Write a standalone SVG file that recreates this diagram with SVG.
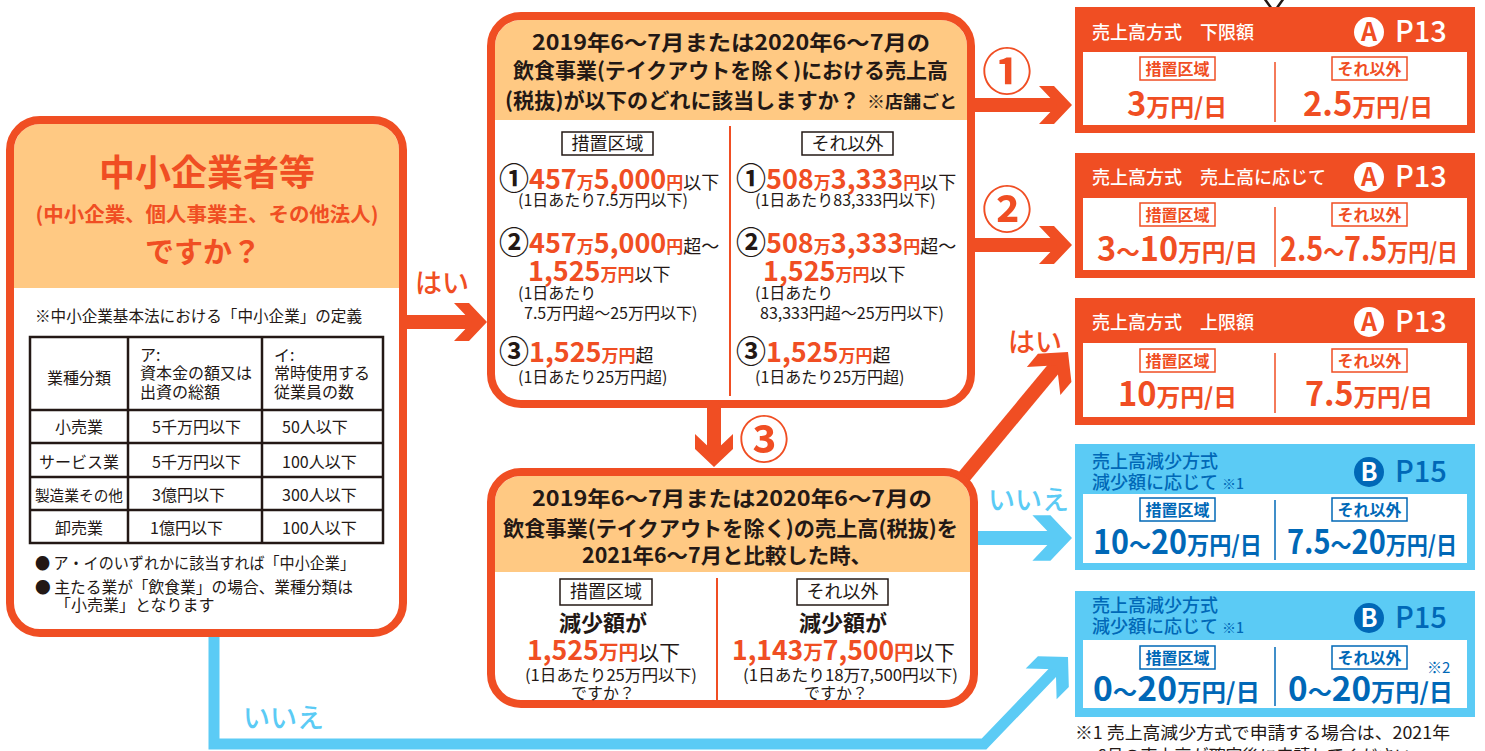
<svg xmlns="http://www.w3.org/2000/svg" width="1485" height="751" viewBox="0 0 1485 751">
<style>
text{font-family:"Noto Sans CJK JP","Noto Sans",sans-serif;fill:#231815}
.ob{stroke:#F04E23;stroke-width:8;fill:none}
.hd{fill:#FFC983}
.ht{font-size:21px;font-weight:700}
.o{fill:#F04E23}
.nb{font-size:27px;font-weight:700;fill:#F04E23}
.ns{font-size:17px;font-weight:700;fill:#F04E23}
.cd{font-size:30px;font-weight:700}
.ls{font-size:18px}
.sm{font-size:15.5px}
.tb{font-size:16px}
.lbl{fill:#fff;stroke:#231815;stroke-width:1.5}
.lt{font-size:18px;text-anchor:middle}
.rt{font-size:18px;fill:#fff;font-weight:500}
.pg{font-size:29px;fill:#fff;font-weight:500}
.rl{fill:#fff;stroke:#F04E23;stroke-width:1.5}
.rlt{font-size:16px;font-weight:700;fill:#F04E23;text-anchor:middle}
.rb{font-size:33px;font-weight:700}
.rs{font-size:24px;font-weight:700}
.ov{fill:#F04E23}
.bv{fill:#0068B7}
.bl{fill:#fff;stroke:#0068B7;stroke-width:1.5}
.blt{font-size:16px;font-weight:700;fill:#0068B7;text-anchor:middle}
.bt{font-size:18px;fill:#0068B7;font-weight:500}
.yn{font-size:27px;font-weight:500}
.cn{font-size:50px;font-weight:700;fill:#F04E23;text-anchor:middle}
</style>
<defs>
<path id="ah" d="M0,0 L-18,-19 L-33,-19 L-15,0 L-33,19 L-18,19 Z"/>
</defs>

<!-- connectors -->
<g id="connectors">
  <rect x="405" y="315" width="70" height="14" fill="#F04E23"/>
  <use href="#ah" transform="translate(487,322)" fill="#F04E23"/>
  <rect x="975" y="98" width="85" height="14" fill="#F04E23"/>
  <use href="#ah" transform="translate(1072,105)" fill="#F04E23"/>
  <rect x="975" y="238" width="85" height="14" fill="#F04E23"/>
  <use href="#ah" transform="translate(1072,245)" fill="#F04E23"/>
  <rect x="707" y="406" width="14" height="50" fill="#F04E23"/>
  <use href="#ah" transform="translate(714,467) rotate(90)" fill="#F04E23"/>
  <line x1="958" y1="484" x2="1060" y2="361" stroke="#F04E23" stroke-width="14"/>
  <use href="#ah" transform="translate(1068,352) rotate(-50) scale(1.15)" fill="#F04E23"/>
  <rect x="976" y="531" width="84" height="14" fill="#5BCBF5"/>
  <use href="#ah" transform="translate(1072,538) scale(1.2)" fill="#5BCBF5"/>
  <path d="M214,635 V744 H984 L1058,667" fill="none" stroke="#5BCBF5" stroke-width="11"/>
  <use href="#ah" transform="translate(1068,657) rotate(-45) scale(1.15)" fill="#5BCBF5"/>
  <text x="415" y="293" class="yn o">はい</text>
  <text x="1008" y="352" class="yn o">はい</text>
  <text x="988" y="510" class="yn" style="fill:#5BCBF5">いいえ</text>
  <text x="243" y="728" class="yn" style="fill:#5BCBF5">いいえ</text>
  <text x="1007" y="90" class="cn">①</text>
  <text x="1007" y="228" class="cn">②</text>
  <text x="764" y="458" class="cn">③</text>
  <polyline points="1264,-2 1274,12 1284,-2" fill="none" stroke="#231815" stroke-width="2.5"/>
</g>

<!-- left node -->
<g id="sme">
  <rect x="10" y="120" width="393" height="513" rx="30" fill="#fff"/>
  <path class="hd" d="M14,288 V150 A26,26 0 0 1 40,124 H373 A26,26 0 0 1 399,150 V288 Z"/>
  <rect x="10" y="120" width="393" height="513" rx="30" class="ob"/>
  <text x="207" y="186" text-anchor="middle" class="o" style="font-size:36px;font-weight:700">中小企業者等</text>
  <text x="207" y="222" text-anchor="middle" class="o" style="font-size:20px;font-weight:700" textLength="343" lengthAdjust="spacingAndGlyphs">(中小企業、個人事業主、その他法人)</text>
  <text x="203" y="263" text-anchor="middle" class="o" style="font-size:29px;font-weight:700">ですか？</text>
  <text x="35" y="322" class="sm" textLength="327" lengthAdjust="spacingAndGlyphs">※中小企業基本法における「中小企業」の定義</text>
  <g fill="none" stroke="#231815" stroke-width="2.5">
    <rect x="30" y="337" width="353" height="206"/>
    <line x1="128" y1="337" x2="128" y2="543"/>
    <line x1="262" y1="337" x2="262" y2="543"/>
    <line x1="30" y1="410" x2="383" y2="410"/>
    <line x1="30" y1="443" x2="383" y2="443"/>
    <line x1="30" y1="477" x2="383" y2="477"/>
    <line x1="30" y1="510" x2="383" y2="510"/>
  </g>
  <g>
    <text x="79" y="384" text-anchor="middle" class="tb">業種分類</text>
    <text x="140" y="361" class="tb">ア:</text>
    <text x="140" y="379" class="tb">資本金の額又は</text>
    <text x="140" y="398" class="tb">出資の総額</text>
    <text x="274" y="361" class="tb">イ:</text>
    <text x="274" y="379" class="tb">常時使用する</text>
    <text x="274" y="398" class="tb">従業員の数</text>
    <text x="79" y="433" text-anchor="middle" class="tb">小売業</text>
    <text x="152" y="433" class="tb">5千万円以下</text>
    <text x="282" y="433" class="tb">50人以下</text>
    <text x="79" y="468" text-anchor="middle" class="tb">サービス業</text>
    <text x="152" y="468" class="tb">5千万円以下</text>
    <text x="282" y="468" class="tb">100人以下</text>
    <text x="79" y="501" text-anchor="middle" class="tb" style="font-size:14.7px">製造業その他</text>
    <text x="152" y="501" class="tb">3億円以下</text>
    <text x="282" y="501" class="tb">300人以下</text>
    <text x="79" y="534" text-anchor="middle" class="tb">卸売業</text>
    <text x="150" y="534" class="tb">1億円以下</text>
    <text x="282" y="534" class="tb">100人以下</text>
  </g>
  <text x="35" y="569" class="tb" textLength="320" lengthAdjust="spacingAndGlyphs">● ア・イのいずれかに該当すれば「中小企業」</text>
  <text x="35" y="593" class="tb" textLength="318" lengthAdjust="spacingAndGlyphs">● 主たる業が「飲食業」の場合、業種分類は</text>
  <text x="55" y="611" class="tb">「小売業」となります</text>
</g>

<!-- middle top node -->
<g id="q1">
  <rect x="491" y="16" width="480" height="388" rx="30" fill="#fff"/>
  <path class="hd" d="M495,120 V46 A26,26 0 0 1 521,20 H941 A26,26 0 0 1 967,46 V120 Z"/>
  <rect x="491" y="16" width="480" height="388" rx="30" class="ob"/>
  <text x="532" y="50" class="ht" textLength="398" lengthAdjust="spacingAndGlyphs">2019年6〜7月または2020年6〜7月の</text>
  <text x="513" y="78" class="ht" textLength="435" lengthAdjust="spacingAndGlyphs">飲食事業(テイクアウトを除く)における売上高</text>
  <text x="505" y="108" class="ht" textLength="355" lengthAdjust="spacingAndGlyphs">(税抜)が以下のどれに該当しますか？</text>
  <text x="867" y="108" style="font-size:17px;font-weight:700" textLength="90" lengthAdjust="spacingAndGlyphs">※店舗ごと</text>
  <line x1="730" y1="126" x2="730" y2="396" stroke="#F04E23" stroke-width="2"/>
  <rect x="562" y="132" width="91" height="23" class="lbl"/>
  <text x="607.5" y="150" class="lt">措置区域</text>
  <rect x="802" y="132" width="91" height="23" class="lbl"/>
  <text x="847.5" y="150" class="lt">それ以外</text>
  <text x="499" y="189"><tspan class="cd">①</tspan><tspan class="nb">457</tspan><tspan class="ns">万</tspan><tspan class="nb">5,000</tspan><tspan class="ns">円</tspan><tspan class="ls">以下</tspan></text>
  <text x="518" y="206" class="tb">(1日あたり7.5万円以下)</text>
  <text x="499" y="253"><tspan class="cd">②</tspan><tspan class="nb">457</tspan><tspan class="ns">万</tspan><tspan class="nb">5,000</tspan><tspan class="ns">円</tspan><tspan class="ls">超〜</tspan></text>
  <text x="528" y="281"><tspan class="nb">1,525</tspan><tspan class="ns">万円</tspan><tspan class="ls">以下</tspan></text>
  <text x="518" y="299" class="tb">(1日あたり</text>
  <text x="524" y="319" class="tb">7.5万円超〜25万円以下)</text>
  <text x="499" y="362"><tspan class="cd">③</tspan><tspan class="nb">1,525</tspan><tspan class="ns">万円</tspan><tspan class="ls">超</tspan></text>
  <text x="518" y="383" class="tb">(1日あたり25万円超)</text>
  <text x="736" y="189"><tspan class="cd">①</tspan><tspan class="nb">508</tspan><tspan class="ns">万</tspan><tspan class="nb">3,333</tspan><tspan class="ns">円</tspan><tspan class="ls">以下</tspan></text>
  <text x="755" y="206" class="tb">(1日あたり83,333円以下)</text>
  <text x="736" y="253"><tspan class="cd">②</tspan><tspan class="nb">508</tspan><tspan class="ns">万</tspan><tspan class="nb">3,333</tspan><tspan class="ns">円</tspan><tspan class="ls">超〜</tspan></text>
  <text x="763" y="281"><tspan class="nb">1,525</tspan><tspan class="ns">万円</tspan><tspan class="ls">以下</tspan></text>
  <text x="755" y="299" class="tb">(1日あたり</text>
  <text x="760" y="319" class="tb">83,333円超〜25万円以下)</text>
  <text x="736" y="362"><tspan class="cd">③</tspan><tspan class="nb">1,525</tspan><tspan class="ns">万円</tspan><tspan class="ls">超</tspan></text>
  <text x="755" y="383" class="tb">(1日あたり25万円超)</text>
</g>

<!-- middle bottom node -->
<g id="q2">
  <rect x="491" y="472" width="483" height="232" rx="30" fill="#fff"/>
  <path class="hd" d="M495,572 V502 A26,26 0 0 1 521,476 H944 A26,26 0 0 1 970,502 V572 Z"/>
  <rect x="491" y="472" width="483" height="232" rx="30" class="ob"/>
  <text x="532" y="506" class="ht" textLength="400" lengthAdjust="spacingAndGlyphs">2019年6〜7月または2020年6〜7月の</text>
  <text x="503" y="536" class="ht" textLength="455" lengthAdjust="spacingAndGlyphs">飲食事業(テイクアウトを除く)の売上高(税抜)を</text>
  <text x="582" y="563" class="ht" textLength="290" lengthAdjust="spacingAndGlyphs">2021年6〜7月と比較した時、</text>
  <line x1="717" y1="578" x2="717" y2="700" stroke="#F04E23" stroke-width="2"/>
  <rect x="560" y="579" width="92" height="26" class="lbl"/>
  <text x="606" y="598" class="lt">措置区域</text>
  <rect x="797" y="579" width="91" height="26" class="lbl"/>
  <text x="842.5" y="598" class="lt">それ以外</text>
  <text x="603" y="631" text-anchor="middle" style="font-size:22px;font-weight:700">減少額が</text>
  <text x="527" y="660" textLength="153" lengthAdjust="spacingAndGlyphs"><tspan class="nb">1,525</tspan><tspan class="ns" style="font-size:20px">万円</tspan><tspan class="ls" style="font-size:21px">以下</tspan></text>
  <text x="525" y="681" class="tb" textLength="172" lengthAdjust="spacingAndGlyphs">(1日あたり25万円以下)</text>
  <text x="603" y="699" text-anchor="middle" class="tb">ですか？</text>
  <text x="843" y="631" text-anchor="middle" style="font-size:22px;font-weight:700">減少額が</text>
  <text x="732" y="660" textLength="223" lengthAdjust="spacingAndGlyphs"><tspan class="nb">1,143</tspan><tspan class="ns" style="font-size:20px">万</tspan><tspan class="nb">7,500</tspan><tspan class="ns" style="font-size:20px">円</tspan><tspan class="ls" style="font-size:21px">以下</tspan></text>
  <text x="743" y="681" class="tb" textLength="215" lengthAdjust="spacingAndGlyphs">(1日あたり18万7,500円以下)</text>
  <text x="836" y="699" text-anchor="middle" class="tb">ですか？</text>
</g>

<!-- result nodes -->
<g id="r1">
  <rect x="1075" y="7" width="400" height="126" fill="#F04E23"/>
  <rect x="1083" y="52" width="384" height="73" fill="#fff"/>
  <text x="1092" y="39" class="rt">売上高方式　下限額</text>
  <circle cx="1369" cy="32" r="15" fill="#fff"/>
  <text x="1369" y="41" text-anchor="middle" style="font-size:25px;font-weight:700;fill:#F04E23">A</text>
  <text x="1395" y="42" class="pg">P13</text>
  <line x1="1275" y1="62" x2="1275" y2="122" stroke="#F04E23" stroke-width="1.5"/>
  <rect x="1140" y="57" width="75" height="23" class="rl"/><text x="1177.5" y="75" class="rlt">措置区域</text>
  <rect x="1332" y="57" width="75" height="23" class="rl"/><text x="1369.5" y="75" class="rlt">それ以外</text>
  <text x="1127" y="116" class="ov" textLength="100" lengthAdjust="spacingAndGlyphs"><tspan class="rb">3</tspan><tspan class="rs">万円/日</tspan></text>
  <text x="1303" y="116" class="ov" textLength="130" lengthAdjust="spacingAndGlyphs"><tspan class="rb">2.5</tspan><tspan class="rs">万円/日</tspan></text>
</g>
<g id="r2">
  <rect x="1075" y="153" width="400" height="125" fill="#F04E23"/>
  <rect x="1083" y="198" width="384" height="72" fill="#fff"/>
  <text x="1092" y="184" class="rt">売上高方式　売上高に応じて</text>
  <circle cx="1369" cy="177" r="15" fill="#fff"/>
  <text x="1369" y="186" text-anchor="middle" style="font-size:25px;font-weight:700;fill:#F04E23">A</text>
  <text x="1395" y="187" class="pg">P13</text>
  <line x1="1275" y1="207" x2="1275" y2="267" stroke="#F04E23" stroke-width="1.5"/>
  <rect x="1140" y="203" width="75" height="23" class="rl"/><text x="1177.5" y="221" class="rlt">措置区域</text>
  <rect x="1332" y="203" width="75" height="23" class="rl"/><text x="1369.5" y="221" class="rlt">それ以外</text>
  <text x="1097" y="261" class="ov" textLength="161" lengthAdjust="spacingAndGlyphs"><tspan class="rb">3</tspan><tspan class="rs">〜</tspan><tspan class="rb">10</tspan><tspan class="rs">万円/日</tspan></text>
  <text x="1280" y="261" class="ov" textLength="178" lengthAdjust="spacingAndGlyphs"><tspan class="rb">2.5</tspan><tspan class="rs">〜</tspan><tspan class="rb">7.5</tspan><tspan class="rs">万円/日</tspan></text>
</g>
<g id="r3">
  <rect x="1075" y="298" width="400" height="127" fill="#F04E23"/>
  <rect x="1083" y="343" width="384" height="74" fill="#fff"/>
  <text x="1092" y="329" class="rt">売上高方式　上限額</text>
  <circle cx="1369" cy="322" r="15" fill="#fff"/>
  <text x="1369" y="331" text-anchor="middle" style="font-size:25px;font-weight:700;fill:#F04E23">A</text>
  <text x="1395" y="332" class="pg">P13</text>
  <line x1="1275" y1="353" x2="1275" y2="413" stroke="#F04E23" stroke-width="1.5"/>
  <rect x="1140" y="349" width="75" height="23" class="rl"/><text x="1177.5" y="367" class="rlt">措置区域</text>
  <rect x="1332" y="349" width="75" height="23" class="rl"/><text x="1369.5" y="367" class="rlt">それ以外</text>
  <text x="1118" y="406" class="ov" textLength="119" lengthAdjust="spacingAndGlyphs"><tspan class="rb">10</tspan><tspan class="rs">万円/日</tspan></text>
  <text x="1305" y="406" class="ov" textLength="128" lengthAdjust="spacingAndGlyphs"><tspan class="rb">7.5</tspan><tspan class="rs">万円/日</tspan></text>
</g>
<g id="r4">
  <rect x="1075" y="444" width="400" height="126" fill="#5BCBF5"/>
  <rect x="1083" y="494" width="384" height="69" fill="#fff"/>
  <text x="1092" y="468" class="bt">売上高減少方式</text>
  <text x="1092" y="489" class="bt">減少額に応じて <tspan style="font-size:14px">※1</tspan></text>
  <circle cx="1369" cy="472" r="15" fill="#0068B7"/>
  <text x="1369" y="481" text-anchor="middle" style="font-size:25px;font-weight:700;fill:#fff">B</text>
  <text x="1395" y="482" class="pg" style="fill:#0068B7">P15</text>
  <line x1="1275" y1="500" x2="1275" y2="560" stroke="#0068B7" stroke-width="1.5"/>
  <rect x="1140" y="498" width="75" height="23" class="bl"/><text x="1177.5" y="516" class="blt">措置区域</text>
  <rect x="1332" y="498" width="75" height="23" class="bl"/><text x="1369.5" y="516" class="blt">それ以外</text>
  <text x="1093" y="554" class="bv" textLength="169" lengthAdjust="spacingAndGlyphs"><tspan class="rb">10</tspan><tspan class="rs">〜</tspan><tspan class="rb">20</tspan><tspan class="rs">万円/日</tspan></text>
  <text x="1287" y="554" class="bv" textLength="170" lengthAdjust="spacingAndGlyphs"><tspan class="rb">7.5</tspan><tspan class="rs">〜</tspan><tspan class="rb">20</tspan><tspan class="rs">万円/日</tspan></text>
</g>
<g id="r5">
  <rect x="1075" y="591" width="400" height="126" fill="#5BCBF5"/>
  <rect x="1083" y="640" width="384" height="68" fill="#fff"/>
  <text x="1092" y="612" class="bt">売上高減少方式</text>
  <text x="1092" y="633" class="bt">減少額に応じて <tspan style="font-size:14px">※1</tspan></text>
  <circle cx="1369" cy="618" r="15" fill="#0068B7"/>
  <text x="1369" y="627" text-anchor="middle" style="font-size:25px;font-weight:700;fill:#fff">B</text>
  <text x="1395" y="628" class="pg" style="fill:#0068B7">P15</text>
  <line x1="1275" y1="647" x2="1275" y2="706" stroke="#0068B7" stroke-width="1.5"/>
  <rect x="1140" y="646" width="75" height="23" class="bl"/><text x="1177.5" y="664" class="blt">措置区域</text>
  <rect x="1332" y="646" width="75" height="23" class="bl"/><text x="1369.5" y="664" class="blt">それ以外</text>
  <text x="1427" y="673" style="font-size:15px;fill:#0068B7">※2</text>
  <text x="1093" y="701" class="bv" textLength="167" lengthAdjust="spacingAndGlyphs"><tspan class="rb">0</tspan><tspan class="rs">〜</tspan><tspan class="rb">20</tspan><tspan class="rs">万円/日</tspan></text>
  <text x="1288" y="701" class="bv" textLength="165" lengthAdjust="spacingAndGlyphs"><tspan class="rb">0</tspan><tspan class="rs">〜</tspan><tspan class="rb">20</tspan><tspan class="rs">万円/日</tspan></text>
</g>
<g id="note">
  <text x="1075" y="739" style="font-size:17px" textLength="375" lengthAdjust="spacingAndGlyphs">※1  売上高減少方式で申請する場合は、2021年</text>
  <text x="1097" y="762" style="font-size:17px">6月の売上高が確定後に申請してください</text>
</g>
</svg>
